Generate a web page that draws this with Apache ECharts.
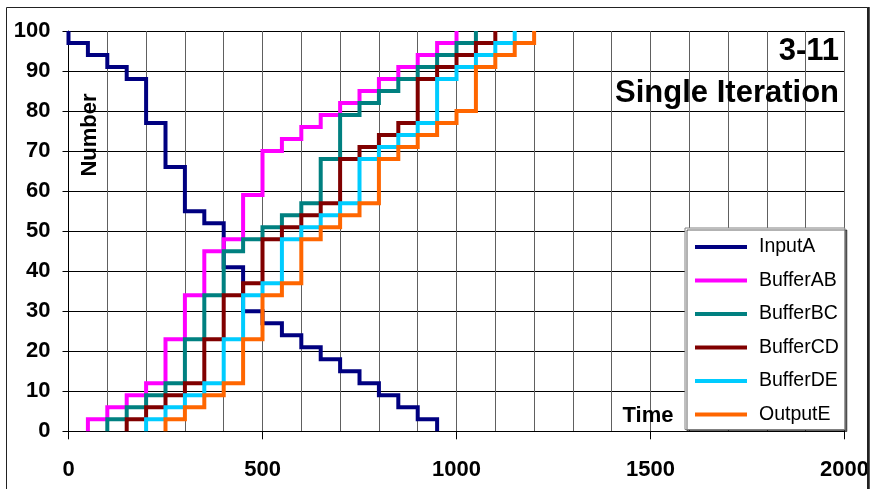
<!DOCTYPE html>
<html>
<head>
<meta charset="utf-8">
<title>3-11 Single Iteration</title>
<script src="https://cdn.jsdelivr.net/npm/echarts@6/dist/echarts.min.js"></script>
<style>
  html, body { margin: 0; padding: 0; background: #ffffff; }
  #chart { width: 872px; height: 489px; }
</style>
</head>
<body>
<div id="chart"></div>
<script>
// Each series is a step curve: the time of every change and the count reached there.
const inputATimes   = [0, 0, 50, 100, 150, 200, 250, 300, 350, 400, 450, 500, 550, 600, 650, 700, 750, 800, 850, 900, 950];
const inputAValues  = [100, 97, 94, 91, 88, 77, 66, 55, 52, 41, 30, 27, 24, 21, 18, 15, 12, 9, 6, 3, 0];

const bufferABTimes  = [50, 50, 100, 150, 200, 250, 300, 350, 400, 450, 500, 550, 600, 650, 700, 750, 800, 850, 900, 950, 1000];
const bufferABValues = [0, 3, 6, 9, 12, 23, 34, 45, 48, 59, 70, 73, 76, 79, 82, 85, 88, 91, 94, 97, 100];

const bufferBCTimes  = [100, 100, 150, 200, 250, 300, 350, 400, 450, 500, 550, 600, 650, 700, 750, 800, 850, 900, 950, 1000, 1050];
const bufferBCValues = [0, 3, 6, 9, 12, 23, 34, 45, 48, 51, 54, 57, 68, 79, 82, 85, 88, 91, 94, 97, 100];

const bufferCDTimes  = [150, 150, 200, 250, 300, 350, 400, 450, 500, 550, 600, 650, 700, 750, 800, 850, 900, 950, 1000, 1050, 1100];
const bufferCDValues = [0, 3, 6, 9, 12, 23, 34, 37, 48, 51, 54, 57, 68, 71, 74, 77, 88, 91, 94, 97, 100];

const bufferDETimes  = [200, 200, 250, 300, 350, 400, 450, 500, 550, 600, 650, 700, 750, 800, 850, 900, 950, 1000, 1050, 1100, 1150];
const bufferDEValues = [0, 3, 6, 9, 12, 23, 34, 37, 48, 51, 54, 57, 68, 71, 74, 77, 88, 91, 94, 97, 100];

const outputETimes   = [250, 250, 300, 350, 400, 450, 500, 550, 600, 650, 700, 750, 800, 850, 900, 950, 1000, 1050, 1100, 1150, 1200];
const outputEValues  = [0, 3, 6, 9, 12, 23, 34, 37, 48, 51, 54, 57, 68, 71, 74, 77, 80, 91, 94, 97, 100];

const seriesNames  = ['InputA', 'BufferAB', 'BufferBC', 'BufferCD', 'BufferDE', 'OutputE'];
const seriesColors = ['#000080', '#FF00FF', '#008080', '#800000', '#00CCFF', '#FF6600'];
const seriesTimes  = [inputATimes, bufferABTimes, bufferBCTimes, bufferCDTimes, bufferDETimes, outputETimes];
const seriesValues = [inputAValues, bufferABValues, bufferBCValues, bufferCDValues, bufferDEValues, outputEValues];

const xTickLabels = ['0', '500', '1000', '1500', '2000'];
const yTickLabels = ['0', '10', '20', '30', '40', '50', '60', '70', '80', '90', '100'];

const FONT = '"Liberation Sans", Arial, sans-serif';

const chart = echarts.init(document.getElementById('chart'), null, { renderer: 'canvas' });

const series = seriesNames.map((name, k) => ({
  name: name,
  type: 'line',
  step: 'end',
  showSymbol: false,
  symbol: 'none',
  animation: false,
  color: seriesColors[k],
  lineStyle: { color: seriesColors[k], width: 4, cap: 'butt', join: 'miter' },
  data: seriesTimes[k].map((t, i) => [t, seriesValues[k][i]])
}));

chart.setOption({
  animation: false,
  backgroundColor: '#ffffff',
  grid: { left: 68.5, right: 27, top: 31, bottom: 57.7, containLabel: false },
  title: [
    {
      text: '3-11', right: 33, top: 36, padding: 0,
      textStyle: { fontFamily: FONT, fontWeight: 'bold', fontSize: 31, color: '#000' }
    },
    {
      text: 'Single Iteration', right: 33, top: 78, padding: 0,
      textStyle: { fontFamily: FONT, fontWeight: 'bold', fontSize: 31, color: '#000' }
    }
  ],
  legend: {
    data: seriesNames,
    orient: 'vertical',
    left: 685, top: 228,
    icon: 'rect',
    itemWidth: 52, itemHeight: 4, itemGap: 13.5,
    padding: [9, 6, 5, 10],
    backgroundColor: '#ffffff',
    borderColor: '#808080', borderWidth: 1,
    shadowColor: 'rgba(0,0,0,0.6)', shadowBlur: 0, shadowOffsetX: 2, shadowOffsetY: 2,
    itemStyle: { borderWidth: 0 },
    selectedMode: false,
    textStyle: { fontFamily: FONT, fontSize: 19.5, lineHeight: 20, color: '#000', padding: [0, 0, 0, 7] }
  },
  xAxis: {
    type: 'value', min: 0, max: 2000, interval: 500,
    axisLine: { show: true, onZero: false, lineStyle: { color: '#000', width: 1 } },
    axisTick: { show: true, length: 8, lineStyle: { color: '#000' } },
    axisLabel: {
      fontFamily: FONT, fontWeight: 'bold', fontSize: 22, color: '#000', margin: 28,
      formatter: v => xTickLabels[Math.round(v / 500)]
    },
    splitLine: { show: true, lineStyle: { color: '#606060', width: 1 } },
    minorTick: { show: false, splitNumber: 5 },
    minorSplitLine: { show: true, lineStyle: { color: '#606060', width: 1 } }
  },
  yAxis: {
    type: 'value', min: 0, max: 100, interval: 10,
    axisLine: { show: true, lineStyle: { color: '#000', width: 1 } },
    axisTick: { show: true, length: 6, lineStyle: { color: '#000' } },
    axisLabel: {
      fontFamily: FONT, fontWeight: 'bold', fontSize: 22, color: '#000', margin: 18,
      formatter: v => yTickLabels[Math.round(v / 10)]
    },
    splitLine: { show: true, lineStyle: { color: '#000', width: 1 } }
  },
  graphic: [
    {
      type: 'rect', silent: true, z: 100,
      shape: { x: 6.5, y: 7.5, width: 861, height: 500 },
      style: { fill: 'none', stroke: '#222', lineWidth: 1 }
    },
    {
      type: 'line', silent: true, z: 100,
      shape: { x1: 868.5, y1: 7, x2: 868.5, y2: 489 },
      style: { stroke: '#222', lineWidth: 2.5 }
    },
    {
      type: 'text', silent: true, z: 50,
      x: 90, y: 135, rotation: Math.PI / 2,
      style: { text: 'Number', font: 'bold 22px ' + FONT, fill: '#000', textAlign: 'center', textVerticalAlign: 'middle' }
    },
    {
      type: 'text', silent: true, z: 50,
      x: 648, y: 416,
      style: { text: 'Time', font: 'bold 22px ' + FONT, fill: '#000', textAlign: 'center', textVerticalAlign: 'middle' }
    }
  ],
  series: series
});
</script>
</body>
</html>
